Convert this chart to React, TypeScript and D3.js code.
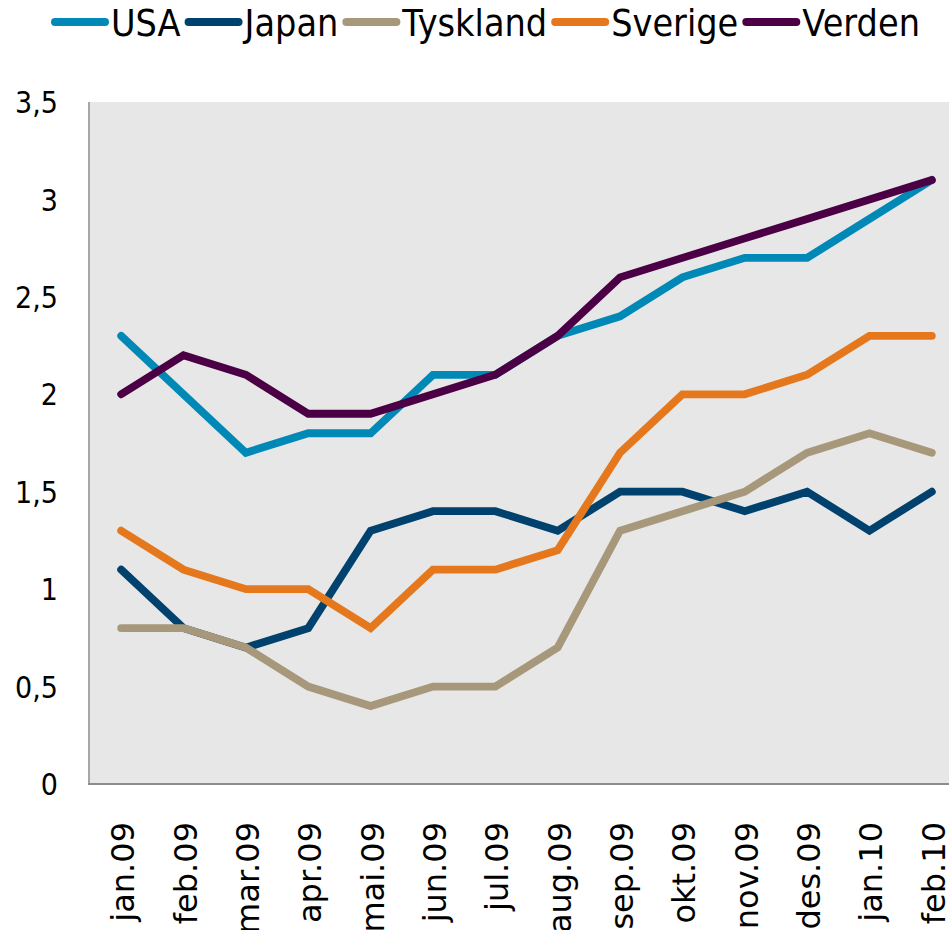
import React, { useEffect, useRef } from "react";
import * as d3 from "d3";

const months = [
  "jan.09", "feb.09", "mar.09", "apr.09", "mai.09", "jun.09", "jul.09",
  "aug.09", "sep.09", "okt.09", "nov.09", "des.09", "jan.10", "feb.10",
];

const usa = [2.3, 2.0, 1.7, 1.8, 1.8, 2.1, 2.1, 2.3, 2.4, 2.6, 2.7, 2.7, 2.9, 3.1];
const japan = [1.1, 0.8, 0.7, 0.8, 1.3, 1.4, 1.4, 1.3, 1.5, 1.5, 1.4, 1.5, 1.3, 1.5];
const tyskland = [0.8, 0.8, 0.7, 0.5, 0.4, 0.5, 0.5, 0.7, 1.3, 1.4, 1.5, 1.7, 1.8, 1.7];
const sverige = [1.3, 1.1, 1.0, 1.0, 0.8, 1.1, 1.1, 1.2, 1.7, 2.0, 2.0, 2.1, 2.3, 2.3];
const verden = [2.0, 2.2, 2.1, 1.9, 1.9, 2.0, 2.1, 2.3, 2.6, 2.7, 2.8, 2.9, 3.0, 3.1];

const seriesNames = ["USA", "Japan", "Tyskland", "Sverige", "Verden"];
const seriesValues = [usa, japan, tyskland, sverige, verden];
const seriesColors = ["#0089B6", "#00426D", "#A8987B", "#E5781D", "#4B0045"];

const yTicks = [0, 0.5, 1, 1.5, 2, 2.5, 3, 3.5];

export default function App() {
  const ref = useRef<SVGSVGElement>(null);

  useEffect(() => {
    const w = 949;
    const left = 90;
    const top = 102;
    const bottom = 784;

    const svg = d3.select(ref.current);
    svg.selectAll("*").remove();

    // x uses bands so the grey area runs half a band past the last month
    const xScale = d3.scaleBand<string>().domain(months).range([left, 963]);
    const xPos = (m: string) => (xScale(m) as number) + xScale.bandwidth() / 2;

    const yScale = d3.scaleLinear().domain([0, 3.5]).range([bottom, top]);

    // Plot background
    svg
      .append("rect")
      .attr("x", left)
      .attr("y", top)
      .attr("width", 963 - left)
      .attr("height", bottom - top)
      .attr("fill", "#E7E7E7");

    // Axis lines
    svg
      .append("line")
      .attr("x1", left - 1)
      .attr("x2", left - 1)
      .attr("y1", top)
      .attr("y2", bottom)
      .attr("stroke", "#A6A6A6")
      .attr("stroke-width", 2);

    svg
      .append("line")
      .attr("x1", left - 2)
      .attr("x2", w)
      .attr("y1", bottom)
      .attr("y2", bottom)
      .attr("stroke", "#8C8C8C")
      .attr("stroke-width", 2);

    // y tick labels
    const fmt = (v: number) => String(v).replace(".", ",");
    svg
      .append("g")
      .selectAll("text")
      .data(yTicks)
      .join("text")
      .attr("transform", d => `translate(58, ${yScale(d)}) scale(0.87, 1)`)
      .attr("text-anchor", "end")
      .attr("dy", "0.36em")
      .attr("font-family", "DejaVu Sans")
      .attr("font-size", 31)
      .attr("fill", "#000")
      .text(fmt);

    // x tick labels, rotated
    svg
      .append("g")
      .selectAll("text")
      .data(months)
      .join("text")
      .attr("transform", d => `translate(${xPos(d)}, 822) rotate(-90)`)
      .attr("text-anchor", "end")
      .attr("y", 13)
      .attr("font-family", "DejaVu Sans")
      .attr("font-size", 32)
      .attr("fill", "#000")
      .text(d => d);

    // Lines
    const line = d3
      .line<number>()
      .x((_, i) => xPos(months[i]))
      .y(d => yScale(d));

    seriesValues.forEach((vals, i) => {
      svg
        .append("path")
        .datum(vals)
        .attr("fill", "none")
        .attr("stroke", seriesColors[i])
        .attr("stroke-width", 7.8)
        .attr("stroke-linecap", "round")
        .attr("stroke-linejoin", "miter")
        .attr("d", line);
    });

    // Legend
    const legend = svg.append("g");
    const sx = 0.885;
    let cx = 55;
    const ly = 22;
    seriesNames.forEach((name, i) => {
      legend
        .append("line")
        .attr("x1", cx)
        .attr("x2", cx + 50)
        .attr("y1", ly)
        .attr("y2", ly)
        .attr("stroke", seriesColors[i])
        .attr("stroke-width", 8)
        .attr("stroke-linecap", "round");
      cx += 56;
      const t = legend
        .append("text")
        .attr("transform", `translate(${cx}, ${ly}) scale(${sx}, 1)`)
        .attr("dy", "0.37em")
        .attr("font-family", "DejaVu Sans")
        .attr("font-size", 38)
        .attr("fill", "#000")
        .text(name);
      const tw = (t.node() as SVGTextElement).getComputedTextLength() * sx;
      cx += tw + 8;
    });
  }, []);

  return (
    <svg
      ref={ref}
      width={949}
      height={930}
      style={{ position: "absolute", left: 0, top: 0, background: "#fff" }}
    />
  );
}
